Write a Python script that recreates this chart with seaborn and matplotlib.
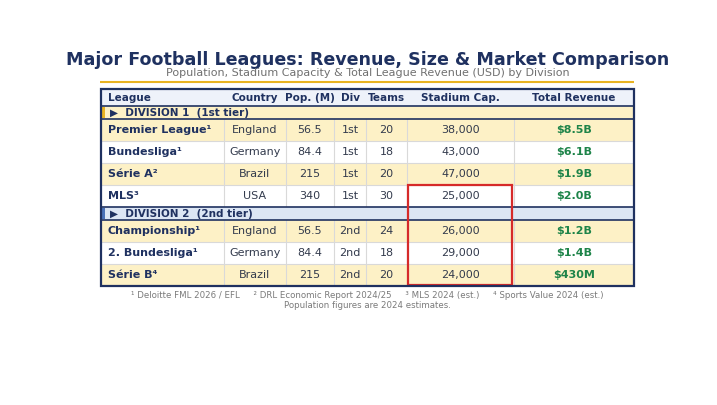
import matplotlib
matplotlib.use("Agg")
import matplotlib.pyplot as plt
from matplotlib.patches import Rectangle
import seaborn as sns

sns.set_theme(style="white")
plt.rcParams['font.family'] = ['DejaVu Sans']

# ---- data ----
columns = ["League", "Country", "Pop. (M)", "Div", "Teams", "Stadium Cap.", "Total Revenue"]
div1_label = "▶  DIVISION 1  (1st tier)"
div2_label = "▶  DIVISION 2  (2nd tier)"
div1_leagues = ["Premier League¹", "Bundesliga¹", "Série A²", "MLS³"]
div1_country = ["England", "Germany", "Brazil", "USA"]
div1_pop = ["56.5", "84.4", "215", "340"]
div1_div = ["1st", "1st", "1st", "1st"]
div1_teams = [20, 18, 20, 30]
div1_stadium = [38000, 43000, 47000, 25000]
div1_revenue = ["$8.5B", "$6.1B", "$1.9B", "$2.0B"]
div2_leagues = ["Championship¹", "2. Bundesliga¹", "Série B⁴"]
div2_country = ["England", "Germany", "Brazil"]
div2_pop = ["56.5", "84.4", "215"]
div2_div = ["2nd", "2nd", "2nd"]
div2_teams = [24, 18, 20]
div2_stadium = [26000, 29000, 24000]
div2_revenue = ["$1.2B", "$1.4B", "$430M"]
title = "Major Football Leagues: Revenue, Size & Market Comparison"
subtitle = "Population, Stadium Capacity & Total League Revenue (USD) by Division"
footnote1 = "¹ Deloitte FML 2026 / EFL     ² DRL Economic Report 2024/25     ³ MLS 2024 (est.)     ⁴ Sports Value 2024 (est.)"
footnote2 = "Population figures are 2024 estimates."

# ---- style ----
NAVY = "#1f3160"
YELLOW = "#fdf1c6"
HEAD_BG = "#eef2fa"
DIV2_BG = "#dce6f4"
GOLD = "#e8b323"
BLUE_ACC = "#4a72b8"
GREEN = "#1e8449"
RED = "#d62a2a"
GRID = "#d9d9d9"
TEXT = "#333b4d"

W, H = 717, 405
fig = plt.figure(figsize=(W / 100, H / 100), dpi=100)
ax = fig.add_axes([0, 0, 1, 1])
ax.set_xlim(0, W)
ax.set_ylim(H, 0)
ax.axis("off")

L, R = 101, 634
CX = (L + R) / 2
col_edges = [L, 224, 286, 334, 366, 407, 514, R]
col_align = ["left", "center", "center", "center", "center", "center", "center"]

def col_x(i):
    if col_align[i] == "left":
        return col_edges[i] + 7
    return (col_edges[i] + col_edges[i + 1]) / 2

ax.text(CX, 60, title, ha="center", va="center", fontsize=12.6,
        fontweight="bold", color=NAVY)
ax.text(CX, 73.5, subtitle, ha="center", va="center", fontsize=8, color="#707070")
ax.plot([L - 1, R], [82, 82], color=GOLD, lw=1.5, solid_capstyle="butt")

# header
y = 89
hh = 17
ax.add_patch(Rectangle((L, y), R - L, hh, color=HEAD_BG, lw=0))
for i, c in enumerate(columns):
    ax.text(col_x(i), y + hh / 2 + 0.3, c, ha=col_align[i], va="center",
            fontsize=7.5, fontweight="bold", color=NAVY)
y += hh

row_h = 22
div_h = 13

def division(y, label, bg, acc):
    ax.add_patch(Rectangle((L, y), R - L, div_h, color=bg, lw=0))
    ax.add_patch(Rectangle((L + 1, y + 1), 3, div_h - 2, color=acc, lw=0))
    ax.text(L + 9, y + div_h / 2 + 0.3, label, ha="left", va="center",
            fontsize=7.5, fontweight="bold", color=NAVY)
    ax.plot([L, R], [y, y], color=NAVY, lw=1.2)
    ax.plot([L, R], [y + div_h, y + div_h], color=NAVY, lw=1.2)
    return y + div_h

def rows(y, leagues, country, pop, div, teams, stadium, revenue):
    tops = []
    for k in range(len(leagues)):
        bg = YELLOW if k % 2 == 0 else "white"
        ax.add_patch(Rectangle((L, y), R - L, row_h, color=bg, lw=0))
        vals = [leagues[k], country[k], pop[k], div[k], str(teams[k]),
                f"{stadium[k]:,}", revenue[k]]
        for i, v in enumerate(vals):
            kw = dict(fontsize=8, color=TEXT)
            if i == 0:
                kw = dict(fontsize=8, fontweight="bold", color=NAVY)
            elif i == 6:
                kw = dict(fontsize=8, fontweight="bold", color=GREEN)
            ax.text(col_x(i), y + row_h / 2 + 0.3, v, ha=col_align[i],
                    va="center", **kw)
        for e in col_edges[1:-1]:
            ax.plot([e, e], [y, y + row_h], color=GRID, lw=0.8, zorder=1)
        if k > 0:
            ax.plot([L, R], [y, y], color=GRID, lw=0.8, zorder=1)
        tops.append(y)
        y += row_h
    return y, tops

y = division(y, div1_label, YELLOW, GOLD)
y, tops1 = rows(y, div1_leagues, div1_country, div1_pop, div1_div, div1_teams,
                div1_stadium, div1_revenue)
y = division(y, div2_label, DIV2_BG, BLUE_ACC)
y, tops2 = rows(y, div2_leagues, div2_country, div2_pop, div2_div, div2_teams,
                div2_stadium, div2_revenue)
bottom = y

# highlight box: MLS stadium through division 2
hx0 = col_edges[5] + 0.5
hx1 = col_edges[6] - 2.5
ax.add_patch(Rectangle((hx0, tops1[-1]), hx1 - hx0, bottom - 1 - tops1[-1],
                       fill=False, edgecolor=RED, lw=1.6, zorder=5))

# outer border
ax.add_patch(Rectangle((L, 89), R - L, bottom - 89, fill=False,
                       edgecolor=NAVY, lw=1.6, zorder=6))

ax.text(CX, 295.5, footnote1, ha="center", va="center", fontsize=6.25, color="#7a7a7a")
ax.text(CX, 305.5, footnote2, ha="center", va="center", fontsize=6.25, color="#7a7a7a")

fig.savefig("out.png", dpi=100, facecolor="white")
